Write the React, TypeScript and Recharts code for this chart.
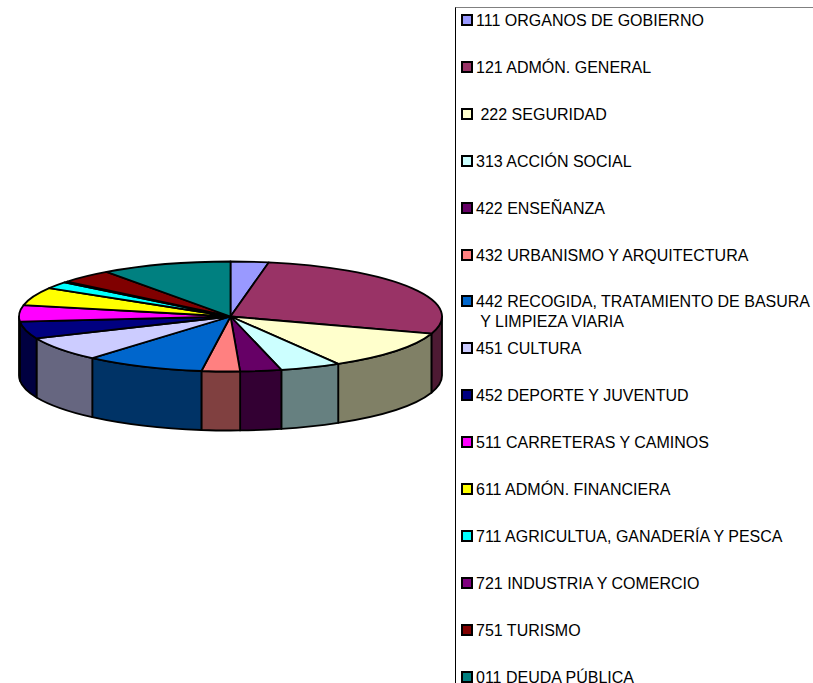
import React from "react";
import { PieChart, Pie, Legend } from "recharts";

const names = [
  "111 ORGANOS DE GOBIERNO",
  "121 ADMÓN. GENERAL",
  " 222 SEGURIDAD",
  "313 ACCIÓN SOCIAL",
  "422 ENSEÑANZA",
  "432 URBANISMO Y ARQUITECTURA",
  "442 RECOGIDA, TRATAMIENTO DE BASURA\n Y LIMPIEZA VIARIA",
  "451 CULTURA",
  "452 DEPORTE Y JUVENTUD",
  "511 CARRETERAS Y CAMINOS",
  "611 ADMÓN. FINANCIERA",
  "711 AGRICULTUA, GANADERÍA Y PESCA",
  "721 INDUSTRIA Y COMERCIO",
  "751 TURISMO",
  "011 DEUDA PÚBLICA",
];
const values = [2.89, 27.17, 11.44, 4.64, 3.14, 2.92, 9.14, 7.14, 5.03, 4.83, 5.28, 2.03, 0.33, 4.06, 9.97];
const topColors = ["#9999FF", "#993366", "#FFFFCC", "#CCFFFF", "#660066", "#FF8080", "#0066CC", "#CCCCFF", "#000080", "#FF00FF", "#FFFF00", "#00FFFF", "#800080", "#800000", "#008080"];
const wallColors = ["#4D4D80", "#4D1A33", "#808066", "#668080", "#330033", "#804040", "#003366", "#666680", "#000040", "#800080", "#808000", "#008080", "#400040", "#400000", "#004040"];

const topData = names.map((name, i) => ({ name, value: values[i], fill: topColors[i] }));
const wallData = names.map((name, i) => ({ name, value: values[i], fill: wallColors[i] }));

const SQUASH = 55 / 211.5;
const DEPTH = 59;
const EDGE = 1.8;

const point = (cx: number, cy: number, r: number, deg: number) => {
  const a = (deg * Math.PI) / 180;
  return [cx + r * Math.cos(a), cy - r * SQUASH * Math.sin(a)];
};

const TopSlice = (p: any) => {
  const { cx, cy, outerRadius: r, startAngle, endAngle, fill } = p;
  const [x1, y1] = point(cx, cy, r, startAngle);
  const [x2, y2] = point(cx, cy, r, endAngle);
  const large = Math.abs(startAngle - endAngle) > 180 ? 1 : 0;
  const d = `M${cx},${cy}L${x1},${y1}A${r},${r * SQUASH} 0 ${large} 1 ${x2},${y2}Z`;
  return <path d={d} fill={fill} stroke="#000" strokeWidth={EDGE} strokeLinejoin="round" />;
};

const WallSlice = (p: any) => {
  const { cx, cy, outerRadius: r, startAngle, endAngle, fill } = p;
  const hi = Math.min(Math.max(startAngle, endAngle), 0);
  const lo = Math.max(Math.min(startAngle, endAngle), -180);
  if (lo >= hi) return <g />;
  const [x1, y1] = point(cx, cy, r, hi);
  const [x2, y2] = point(cx, cy, r, lo);
  const ry = r * SQUASH;
  const d = `M${x1},${y1}A${r},${ry} 0 0 1 ${x2},${y2}L${x2},${y2 + DEPTH}A${r},${ry} 0 0 0 ${x1},${y1 + DEPTH}Z`;
  return <path d={d} fill={fill} stroke="#000" strokeWidth={EDGE} strokeLinejoin="round" />;
};

const FIRST_ROW = 20;
const ROW_STEP = 46.9;
const LINE = 20;

const LegendBox = () => (
  <div
    style={{
      position: "absolute",
      left: 455,
      top: 7,
      width: 358,
      height: 676,
      borderLeft: "1px solid #000",
      borderTop: "1px solid #808080",
      boxSizing: "border-box",
      overflow: "hidden",
      fontFamily: '"Liberation Sans", Arial, sans-serif',
      fontSize: 16,
      color: "#000",
    }}
  >
    {topData.map((item, i) => {
      const y = FIRST_ROW + ROW_STEP * i - 8;
      return (
        <React.Fragment key={i}>
          <div
            style={{
              position: "absolute",
              left: 5,
              top: y - 6,
              width: 12,
              height: 12,
              boxSizing: "border-box",
              border: "2px solid #000",
              background: item.fill,
            }}
          />
          <div
            style={{
              position: "absolute",
              left: 20,
              top: y - LINE / 2 + 1,
              lineHeight: `${LINE}px`,
              whiteSpace: "pre",
            }}
          >
            {item.name}
          </div>
        </React.Fragment>
      );
    })}
  </div>
);

export default function App() {
  return (
    <div style={{ position: "absolute", left: 0, top: 0, width: 813, height: 683, overflow: "hidden", background: "#fff" }}>
      <PieChart width={813} height={683} margin={{ top: 0, right: 0, bottom: 0, left: 0 }}>
        <Pie
          data={wallData}
          dataKey="value"
          nameKey="name"
          cx={230.5}
          cy={316.5}
          outerRadius={211.5}
          startAngle={90}
          endAngle={-270}
          legendType="none"
          isAnimationActive={false}
          shape={WallSlice}
        />
        <Pie
          data={topData}
          dataKey="value"
          nameKey="name"
          cx={230.5}
          cy={316.5}
          outerRadius={211.5}
          startAngle={90}
          endAngle={-270}
          isAnimationActive={false}
          shape={TopSlice}
        />
        <Legend content={LegendBox} wrapperStyle={{ position: "absolute", left: 0, top: 0, width: 0, height: 0 }} />
      </PieChart>
    </div>
  );
}
